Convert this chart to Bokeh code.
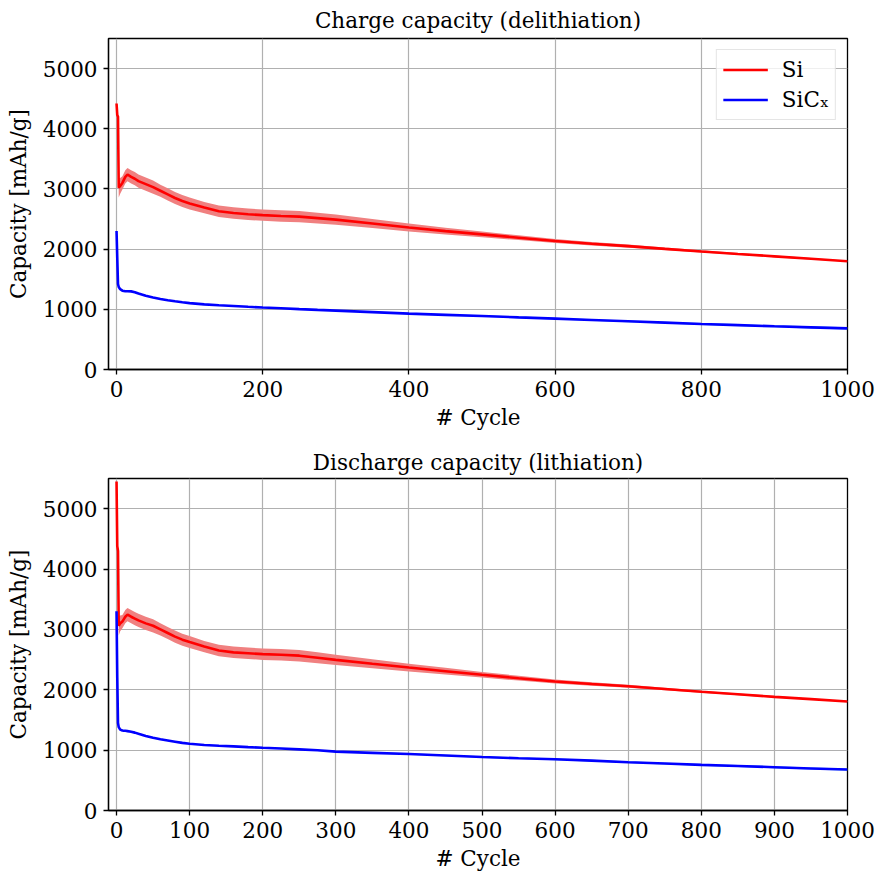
from bokeh.plotting import figure
from bokeh.layouts import column
from bokeh.models import ColumnDataSource, Range1d, FixedTicker, Legend, LegendItem
from bokeh.embed import file_html
from bokeh.resources import INLINE

# ---------------- data ----------------
cycles = [0, 1, 2, 3, 5, 8, 10, 12, 15, 20, 25, 30, 40, 50, 60, 70, 80, 90, 100,
          120, 140, 160, 180, 200, 225, 250, 275, 300, 350, 400, 450, 500, 550,
          600, 650, 700, 750, 800, 850, 900, 950, 1000]

si_charge = [4420, 4230, 4200, 3020, 3050, 3100, 3150, 3200, 3240, 3200, 3170, 3130,
             3080, 3030, 2970, 2910, 2850, 2800, 2760, 2690, 2630, 2600, 2580, 2565,
             2550, 2540, 2515, 2490, 2425, 2360, 2300, 2245, 2190, 2135, 2090, 2050,
             2005, 1962, 1920, 1880, 1840, 1798]
si_charge_err = [60, 60, 60, 160, 130, 110, 110, 110, 110, 110, 110, 110, 110, 110, 100,
                 100, 100, 100, 100, 95, 95, 95, 95, 95, 95, 95, 90, 85, 75, 65, 55, 47,
                 40, 34, 29, 25, 21, 18, 15, 13, 11, 9]
sic_charge = [2300, 1850, 1420, 1370, 1335, 1310, 1305, 1300, 1300, 1298, 1285, 1262,
              1225, 1198, 1172, 1152, 1133, 1117, 1103, 1082, 1068, 1056, 1042, 1030,
              1017, 1003, 990, 978, 953, 928, 908, 889, 866, 845, 823, 801, 779, 757,
              738, 718, 700, 683]
sic_charge_err = [8, 8, 8, 8, 8, 8, 8, 8, 8, 8, 8, 8, 8, 8, 8, 8, 8, 8, 8, 9, 9, 9, 9,
                  10, 10, 10, 10, 11, 11, 12, 12, 13, 13, 14, 14, 15, 15, 16, 16, 17,
                  17, 18]

si_discharge = [5450, 4380, 4300, 3060, 3100, 3130, 3170, 3210, 3245, 3210, 3180, 3150,
                3100, 3060, 3000, 2940, 2880, 2830, 2790, 2715, 2650, 2620, 2605, 2590,
                2580, 2565, 2530, 2495, 2430, 2368, 2308, 2249, 2192, 2138, 2095, 2058,
                2012, 1967, 1925, 1883, 1845, 1806]
si_discharge_err = [80, 80, 80, 160, 130, 110, 110, 110, 110, 110, 110, 110, 110, 110,
                    100, 100, 100, 100, 100, 95, 95, 95, 95, 95, 95, 95, 90, 85, 75, 65,
                    55, 47, 40, 34, 29, 25, 21, 18, 15, 13, 11, 9]
sic_discharge = [3300, 2200, 1450, 1380, 1340, 1325, 1320, 1320, 1315, 1305, 1290, 1270,
                 1235, 1205, 1180, 1160, 1140, 1120, 1105, 1085, 1072, 1062, 1050, 1040,
                 1028, 1013, 997, 975, 955, 935, 910, 886, 866, 848, 826, 800, 778, 756,
                 737, 717, 697, 678]
sic_discharge_err = sic_charge_err

y_ticks = [0, 1000, 2000, 3000, 4000, 5000]
x_ticks_top = [0, 200, 400, 600, 800, 1000]
x_ticks_bottom = [0, 100, 200, 300, 400, 500, 600, 700, 800, 900, 1000]

FONT = "DejaVu Serif"
FS = "21.5px"


def make_fig(title, si, si_err, sic, sic_err, xticks, b_top, b_bottom, legend, t_standoff):
    src = ColumnDataSource(dict(
        x=cycles, si=si, sic=sic,
        si_lo=[v - e for v, e in zip(si, si_err)],
        si_hi=[v + e for v, e in zip(si, si_err)],
        sic_lo=[v - e for v, e in zip(sic, sic_err)],
        sic_hi=[v + e for v, e in zip(sic, sic_err)],
    ))
    p = figure(width=877, height=437, output_backend="svg", toolbar_location=None,
               x_range=Range1d(-11, 1000), y_range=Range1d(0, 5500),
               min_border_left=108, min_border_right=30,
               min_border_top=b_top, min_border_bottom=b_bottom, title=title)
    p.background_fill_color = "white"
    p.border_fill_color = "white"
    p.outline_line_color = "black"
    p.outline_line_width = 1.3

    p.title.align = "center"
    p.title.text_font = FONT
    p.title.text_font_size = FS
    p.title.text_font_style = "normal"
    p.title.text_color = "black"
    p.title.standoff = t_standoff

    for ax in (p.xaxis[0], p.yaxis[0]):
        ax.axis_line_color = "black"
        ax.axis_line_width = 1.3
        ax.major_tick_line_color = "black"
        ax.major_tick_line_width = 1.3
        ax.major_tick_out = 5
        ax.major_tick_in = 0
        ax.minor_tick_line_color = None
        ax.major_label_text_font = FONT
        ax.major_label_text_font_size = FS
        ax.major_label_text_color = "black"
        ax.axis_label_text_font = FONT
        ax.axis_label_text_font_size = FS
        ax.axis_label_text_font_style = "normal"
        ax.axis_label_text_color = "black"
        ax.major_label_standoff = 6

    p.xaxis.ticker = FixedTicker(ticks=xticks)
    p.yaxis.ticker = FixedTicker(ticks=y_ticks)
    p.xaxis.axis_label = "# Cycle"
    p.yaxis.axis_label = "Capacity [mAh/g]"
    p.xaxis.axis_label_standoff = 5
    p.yaxis.axis_label_standoff = 9

    p.grid.grid_line_color = "#b0b0b0"
    p.grid.grid_line_width = 1.2

    p.varea(x="x", y1="si_lo", y2="si_hi", source=src, fill_color="#f08080", fill_alpha=1.0)
    p.varea(x="x", y1="sic_lo", y2="sic_hi", source=src, fill_color="#4cc3f0", fill_alpha=0.7)
    r_si = p.line(x="x", y="si", source=src, line_color="#ff0000", line_width=2.6)
    r_sic = p.line(x="x", y="sic", source=src, line_color="#0000ff", line_width=2.6)

    if legend:
        lg = Legend(items=[LegendItem(label="Si", renderers=[r_si]),
                           LegendItem(label="SiC\u2093", renderers=[r_sic])],
                    location="top_right")
        lg.margin = 11
        lg.padding = 6
        lg.spacing = 3
        lg.glyph_width = 45
        lg.glyph_height = 27
        lg.label_height = 27
        lg.label_standoff = 14
        lg.label_text_font = FONT
        lg.label_text_font_size = FS
        lg.label_text_color = "black"
        lg.border_line_color = "#cccccc"
        lg.border_line_width = 1.2
        lg.background_fill_color = "white"
        lg.background_fill_alpha = 0.8
        p.add_layout(lg)
    return p


p1 = make_fig("Charge capacity (delithiation)", si_charge, si_charge_err,
              sic_charge, sic_charge_err, x_ticks_top, 37, 68, True, 11)
p2 = make_fig("Discharge capacity (lithiation)", si_discharge, si_discharge_err,
              sic_discharge, sic_discharge_err, x_ticks_bottom, 41, 64, False, 8)

p = column(p1, p2)
open("out.html", "w").write(file_html(p, INLINE))
